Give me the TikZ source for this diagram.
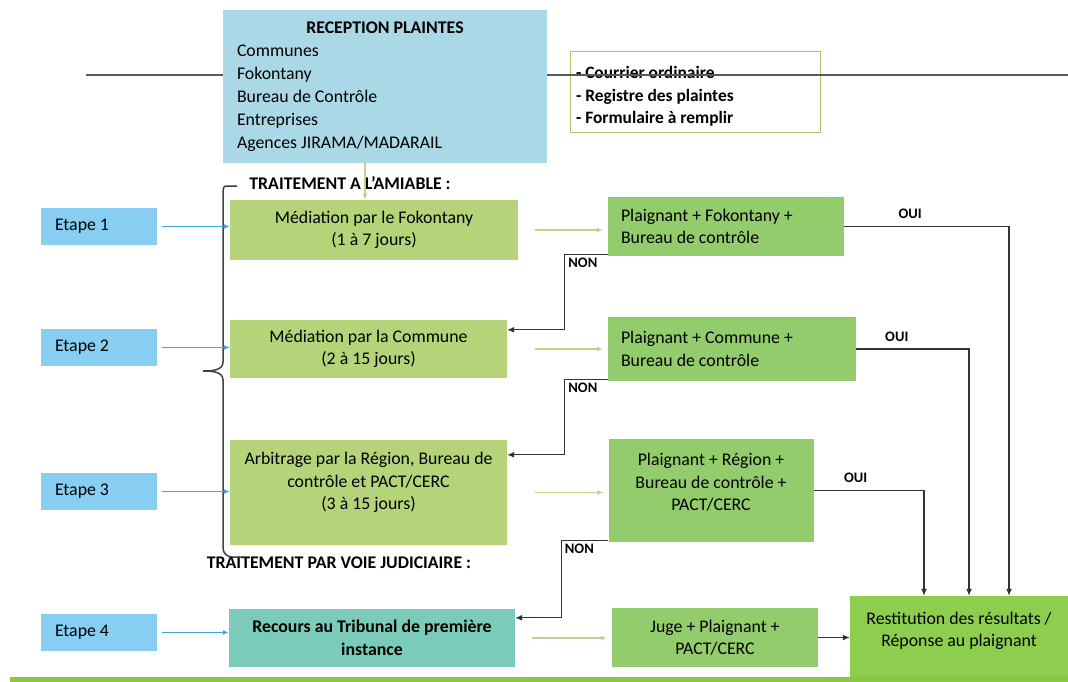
\documentclass[tikz,border=0pt]{standalone}
\usepackage{fontspec}
\setmainfont{Carlito}
\usetikzlibrary{arrows.meta}

\definecolor{recepblue}{RGB}{170,216,230}
\definecolor{etapeblue}{RGB}{135,206,242}
\definecolor{medgreen}{RGB}{181,212,122}
\definecolor{plgreen}{RGB}{146,204,108}
\definecolor{restigreen}{RGB}{142,206,78}
\definecolor{recoursteal}{RGB}{122,203,186}
\definecolor{framegreen}{RGB}{165,198,115}
\definecolor{arrowgreen}{RGB}{190,212,140}
\definecolor{arrowblue}{RGB}{62,168,218}
\definecolor{bargreen}{RGB}{140,198,63}

\newcommand\mainsize{\fontsize{17.8}{22.5}\selectfont}
\newcommand\labelsize{\fontsize{14.5}{17}\selectfont\bfseries}

\tikzset{
  box/.style={shape=rectangle, inner sep=0pt, align=center, font=\mainsize},
  recbox/.style={box, fill=recepblue, minimum width=324pt, minimum height=153pt, inner xsep=14pt, text width=296pt, align=flush left, font={\fontsize{17.8}{23}\selectfont}},
  framebox/.style={box, draw=framegreen, line width=1pt, minimum width=250pt, minimum height=81pt},
  frametext/.style={inner sep=0pt, text width=238pt, align=flush left, font={\fontsize{17.4}{22.5}\selectfont\bfseries}, yshift=-4pt},
  etapebox/.style={box, fill=etapeblue, minimum width=116pt, minimum height=37pt, inner xsep=14pt, text width=88pt, align=flush left},
  medbox/.style={box, fill=medgreen},
  plbox/.style={box, fill=plgreen},
  raisedtext/.style={align=center, font=\mainsize, inner sep=0pt, yshift=#1},
  titletext/.style={font={\mainsize\bfseries}, inner sep=0pt},
  bluearrow/.style={draw=arrowblue, line width=1.2pt, -{Latex[length=6pt,width=5pt]}},
  greenarrow/.style={draw=arrowgreen, line width=1.3pt, -{Latex[length=6pt,width=5pt]}},
  flowarrow/.style={draw=black!80, line width=1.2pt, -{Latex[length=7pt,width=6pt]}},
  flowlabel/.style={font=\labelsize, inner sep=3pt}
}

\begin{document}
\begin{tikzpicture}[x=1pt, y=-1pt]
\useasboundingbox (0,0) rectangle (1068,682);

% reception
\node[framebox, label={[frametext]center:- Courrier ordinaire\\- Registre des plaintes\\- Formulaire à remplir}] (canaux) at (695,92.5) {};
\coordinate (lineL) at (86,75);
\coordinate (lineR) at (1068,75);
\draw[black!65, line width=1.6pt] (lineL) -- (lineR);
\node[recbox] (recep) at (385,86.5) {\makebox[296pt]{\textbf{RECEPTION PLAINTES}}\\Communes\\Fokontany\\Bureau de Contrôle\\Entreprises\\Agences JIRAMA/MADARAIL};

\node[titletext] (amiable) at (350,183) {TRAITEMENT A L'AMIABLE :};
\node[titletext] (judiciaire) at (339,563) {TRAITEMENT PAR VOIE JUDICIAIRE :};

% etapes
\node[etapebox] (etape1) at (99,226.5) {Etape 1};
\node[etapebox] (etape2) at (99,347.5) {Etape 2};
\node[etapebox] (etape3) at (99,491.5) {Etape 3};
\node[etapebox] (etape4) at (99,632.5) {Etape 4};

% traitement
\node[medbox, minimum width=288pt, minimum height=60pt] (med1) at (374,230) {Médiation par le Fokontany\\(1 à 7 jours)};
\node[medbox, minimum width=277pt, minimum height=58pt] (med2) at (368.5,349) {Médiation par la Commune\\(2 à 15 jours)};
\node[medbox, minimum width=277pt, minimum height=105pt, label={[raisedtext=10pt]center:Arbitrage par la Région, Bureau de\\contrôle et PACT/CERC\\(3 à 15 jours)}] (arb) at (368.5,492.5) {};
\node[box, fill=recoursteal, font={\mainsize\bfseries}, minimum width=286pt, minimum height=58pt] (recours) at (372,638) {Recours au Tribunal de première\\instance};

\node[plbox, minimum width=236pt, minimum height=59pt, inner xsep=13pt, text width=210pt, align=flush left] (pl1) at (726,226.5) {Plaignant + Fokontany +\\Bureau de contrôle};
\node[plbox, minimum width=248pt, minimum height=64pt, inner xsep=13pt, text width=222pt, align=flush left] (pl2) at (732,349) {Plaignant + Commune +\\Bureau de contrôle};
\node[plbox, minimum width=205pt, minimum height=103pt, label={[raisedtext=8pt]center:Plaignant + Région +\\Bureau de contrôle +\\PACT/CERC}] (pl3) at (711,490.5) {};
\node[plbox, minimum width=206pt, minimum height=59pt] (juge) at (715,637.5) {Juge + Plaignant +\\PACT/CERC};
\node[box, fill=restigreen, minimum width=218pt, minimum height=86pt, label={[raisedtext=8pt]center:Restitution des résultats /\\Réponse au plaignant}] (resti) at (959,639) {};

\fill[bargreen] (10,677) rectangle (1068,682);

% accolade
\draw[black!75, line width=1.5pt] (237,186) -- (226,186) to[out=180,in=90] (223,192) -- (223,362) to[out=-90,in=0] (203,371) to[out=0,in=90] (223,380) -- (223,548) to[out=-90,in=180] (232,557) -- (245,557);

% fleches
\draw[greenarrow] ([xshift=-20pt]recep.south) -- ([xshift=-20pt]recep.south |- med1.north);
\draw[bluearrow, shorten <=5pt] (etape1.east) -- (etape1.east -| med1.west);
\draw[bluearrow, shorten <=5pt] (etape2.east) -- (etape2.east -| med2.west);
\draw[bluearrow, shorten <=5pt] (etape3.east) -- (etape3.east -| arb.west);
\draw[bluearrow, shorten <=5pt] (etape4.east) -- (etape4.east -| recours.west);

\draw[greenarrow, shorten <=17pt, shorten >=5pt] (med1.east) -- (med1.east -| pl1.west);
\draw[greenarrow, shorten <=28pt, shorten >=5pt] (med2.east) -- (med2.east -| pl2.west);
\draw[greenarrow, shorten <=28pt, shorten >=5pt] (arb.east) -- (arb.east -| pl3.west);
\draw[greenarrow, shorten <=17pt, shorten >=5pt] (recours.east) -- (recours.east -| juge.west);

\draw[flowarrow] ([yshift=2pt]pl1.south west) -- ++(-43,0) node[below right, flowlabel] {NON} |- ([yshift=-10pt]med2.north east);
\draw[flowarrow] ([yshift=2pt]pl2.south west) -- ++(-43,0) node[below right, flowlabel] {NON} |- ([yshift=-15pt]arb.north east);
\draw[flowarrow] ([yshift=2pt]pl3.south west) -- ++(-47,0) node[below right, flowlabel] {NON} |- ([yshift=-9pt]recours.north east);

\draw[flowarrow] (pl1.east) -| ([xshift=50pt]resti.north) node[pos=0.2, above=4pt, flowlabel] {OUI};
\draw[flowarrow] (pl2.east) -| ([xshift=10pt]resti.north) node[pos=0.18, above=4pt, flowlabel] {OUI};
\draw[flowarrow] (pl3.east) -| ([xshift=-35pt]resti.north) node[pos=0.19, above=4pt, flowlabel] {OUI};
\draw[flowarrow] (juge.east) -- (juge.east -| resti.west);
\end{tikzpicture}
\end{document}
